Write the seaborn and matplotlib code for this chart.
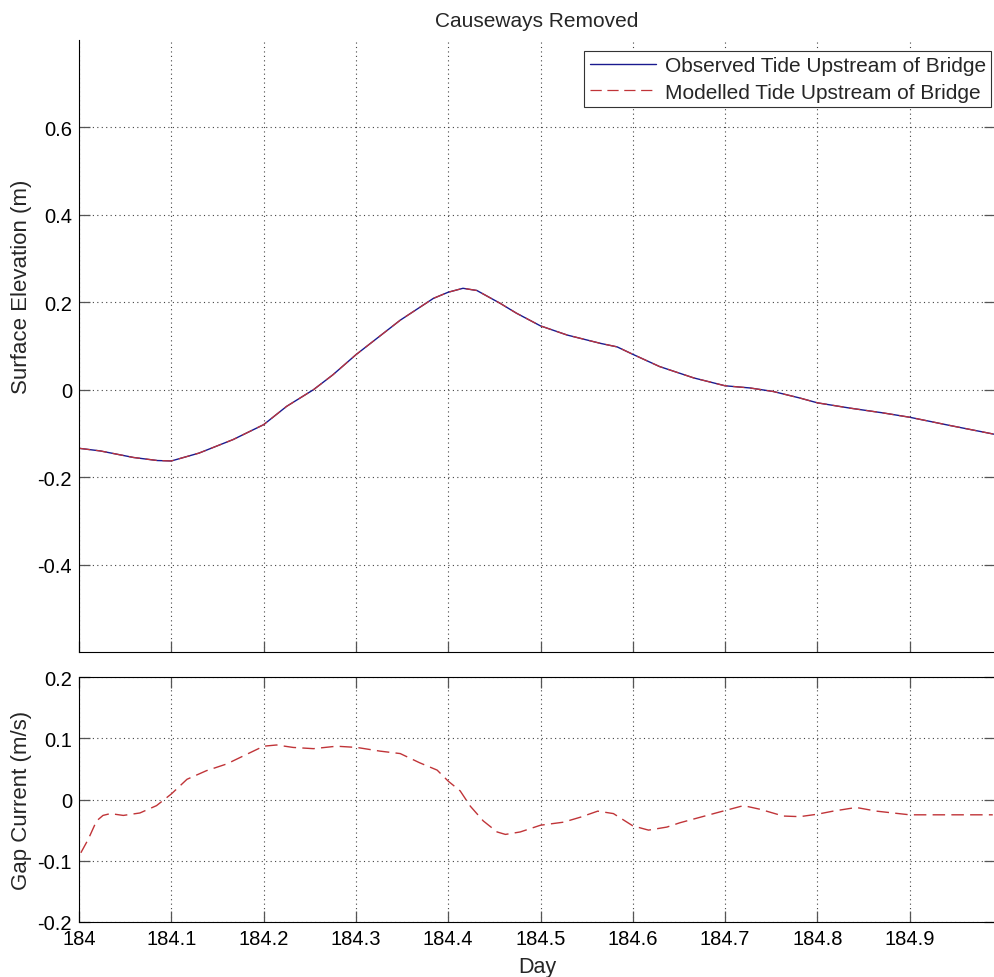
import matplotlib
matplotlib.use("Agg")
import matplotlib.pyplot as plt
import seaborn as sns
import pandas as pd

# ---- Surface elevation upstream of the bridge (m) ----
tide_day = [184.000, 184.023, 184.059, 184.085, 184.100, 184.130, 184.167, 184.200,
            184.225, 184.254, 184.275, 184.300, 184.348, 184.384, 184.400, 184.416,
            184.431, 184.456, 184.474, 184.500, 184.529, 184.565, 184.583, 184.600,
            184.629, 184.666, 184.700, 184.727, 184.752, 184.781, 184.800, 184.835,
            184.871, 184.900, 184.944, 184.992]
observed_tide = [-0.134, -0.140, -0.155, -0.162, -0.163, -0.145, -0.114, -0.080,
                 -0.038, 0.000, 0.034, 0.080, 0.159, 0.209, 0.223, 0.232,
                 0.227, 0.198, 0.175, 0.146, 0.125, 0.106, 0.098, 0.081,
                 0.053, 0.027, 0.009, 0.004, -0.004, -0.019, -0.030, -0.042,
                 -0.053, -0.063, -0.082, -0.102]
modelled_tide = [-0.134, -0.140, -0.155, -0.162, -0.163, -0.145, -0.114, -0.080,
                 -0.038, 0.000, 0.034, 0.080, 0.159, 0.209, 0.223, 0.232,
                 0.227, 0.198, 0.175, 0.146, 0.125, 0.106, 0.098, 0.081,
                 0.053, 0.027, 0.009, 0.004, -0.004, -0.019, -0.030, -0.042,
                 -0.053, -0.063, -0.082, -0.102]

# ---- Modelled current through the causeway gap (m/s) ----
gap_day = [184.002, 184.010, 184.019, 184.026, 184.034, 184.048, 184.066, 184.084,
           184.100, 184.117, 184.138, 184.160, 184.182, 184.200, 184.214, 184.232,
           184.254, 184.279, 184.301, 184.326, 184.348, 184.369, 184.388, 184.400,
           184.413, 184.424, 184.438, 184.453, 184.462, 184.478, 184.500, 184.525,
           184.543, 184.562, 184.579, 184.600, 184.617, 184.637, 184.651, 184.673,
           184.700, 184.720, 184.738, 184.763, 184.781, 184.800, 184.817, 184.842,
           184.864, 184.900, 184.925, 184.990]
gap_current = [-0.087, -0.065, -0.035, -0.026, -0.023, -0.026, -0.022, -0.010,
               0.009, 0.033, 0.047, 0.058, 0.074, 0.087, 0.089, 0.085,
               0.083, 0.087, 0.085, 0.079, 0.075, 0.060, 0.048, 0.030,
               0.014, -0.011, -0.035, -0.053, -0.057, -0.053, -0.042, -0.037,
               -0.029, -0.019, -0.023, -0.043, -0.050, -0.045, -0.038, -0.029,
               -0.018, -0.010, -0.016, -0.027, -0.028, -0.024, -0.019, -0.013,
               -0.019, -0.025, -0.025, -0.025]

# ---- Axis ticks ----
day_ticks = [184.0, 184.1, 184.2, 184.3, 184.4, 184.5, 184.6, 184.7, 184.8, 184.9]
day_tick_labels = ["184", "184.1", "184.2", "184.3", "184.4", "184.5",
                   "184.6", "184.7", "184.8", "184.9"]
elev_ticks = [-0.4, -0.2, 0.0, 0.2, 0.4, 0.6]
elev_tick_labels = ["-0.4", "-0.2", "0", "0.2", "0.4", "0.6"]
gap_ticks = [-0.2, -0.1, 0.0, 0.1, 0.2]
gap_tick_labels = ["-0.2", "-0.1", "0", "0.1", "0.2"]

sns.set_theme(style="white")
plt.rcParams["font.family"] = ["Liberation Sans", "DejaVu Sans"]
plt.rcParams["axes.linewidth"] = 0.8
plt.rcParams["axes.edgecolor"] = "black"

BLUE = "#1a1a8f"
RED = "#c03438"
DASH = (0, (9, 4.5))
GRID = dict(color="#444444", linestyle=(0, (1, 3)), linewidth=0.8)

fig = plt.figure(figsize=(9.95, 9.78), dpi=100)
W, H = 995.0, 978.0
left = 79 / W
width = 1.0 - left
ax_top = fig.add_axes([left, (H - 653) / H, width, (653 - 41) / H])
ax_bot = fig.add_axes([left, (H - 923) / H, width, (923 - 678) / H])

tide_df = pd.DataFrame({"day": tide_day, "observed": observed_tide,
                        "modelled": modelled_tide})
gap_df = pd.DataFrame({"day": gap_day, "current": gap_current})

sns.lineplot(data=tide_df, x="day", y="observed", ax=ax_top, color=BLUE,
             linewidth=1.0, estimator=None, sort=False,
             label="Observed Tide Upstream of Bridge")
sns.lineplot(data=tide_df, x="day", y="modelled", ax=ax_top, color=RED,
             linewidth=0.9, linestyle=DASH, estimator=None, sort=False,
             label="Modelled Tide Upstream of Bridge")
sns.lineplot(data=gap_df, x="day", y="current", ax=ax_bot, color=RED,
             linewidth=1.0, linestyle=DASH, estimator=None, sort=False)

xmax = 184.0 + (W - 79) / 923.0

for ax in (ax_top, ax_bot):
    ax.set_xlim(184.0, xmax)
    ax.set_xticks(day_ticks)
    ax.grid(True, **GRID)
    ax.tick_params(direction="in", length=8, width=0.9, color="#555555",
                   labelsize=14.5, labelcolor="black", pad=5,
                   left=True, bottom=True, right=True)
    ax.spines["right"].set_visible(False)
    ax.set_facecolor("white")

# upper panel
ax_top.set_ylim(-0.6, 0.8)
ax_top.set_yticks(elev_ticks)
ax_top.set_yticklabels(elev_tick_labels)
ax_top.tick_params(labelbottom=False, top=False)
ax_top.spines["top"].set_visible(False)
ax_top.set_xlabel("")
ax_top.set_ylabel("Surface Elevation (m)", fontsize=16)
ax_top.yaxis.set_label_coords(-0.0513, 0.598)
ax_top.set_title("Causeways Removed", fontsize=15, pad=10)

leg = ax_top.legend(loc="upper right", bbox_to_anchor=(0.9956, 0.982),
                    borderaxespad=0, fontsize=15, handlelength=3.2,
                    handletextpad=0.4, labelspacing=0.35, borderpad=0.25,
                    fancybox=False, framealpha=1, edgecolor="#333333")
leg.get_frame().set_linewidth(0.8)

# lower panel
ax_bot.set_ylim(-0.2, 0.2)
ax_bot.set_yticks(gap_ticks)
ax_bot.set_yticklabels(gap_tick_labels)
ax_bot.set_xticklabels(day_tick_labels)
ax_bot.tick_params(top=True)
ax_bot.set_xlabel("Day", fontsize=15.5, labelpad=6)
ax_bot.set_ylabel("Gap Current (m/s)", fontsize=16)
ax_bot.yaxis.set_label_coords(-0.0513, 0.5)

fig.savefig("out.png", dpi=100, facecolor="white")
